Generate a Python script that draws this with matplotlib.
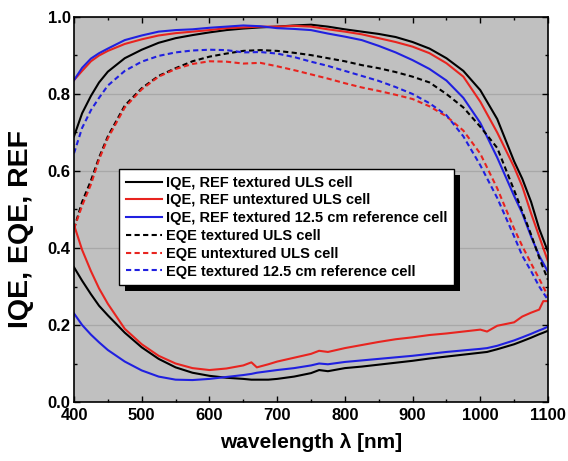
import matplotlib
matplotlib.use('Agg')
import matplotlib.pyplot as plt
from matplotlib.patches import Rectangle
from matplotlib.ticker import MultipleLocator, FormatStrFormatter

plt.rcParams['font.family'] = ['Liberation Sans', 'DejaVu Sans']
plt.rcParams['font.weight'] = 'bold'

# ---------------- data ----------------
wavelength = [400, 412, 425, 437, 450, 475, 500, 525, 550, 575, 600, 625, 650, 675,
              700, 725, 750, 775, 800, 825, 850, 875, 900, 925, 950, 975, 1000,
              1025, 1050, 1062, 1075, 1087, 1100]

iqe_textured_uls = [0.69, 0.75, 0.795, 0.83, 0.858, 0.893, 0.915, 0.933, 0.945, 0.953,
                    0.96, 0.966, 0.97, 0.973, 0.975, 0.978, 0.98, 0.975, 0.968, 0.962,
                    0.956, 0.948, 0.935, 0.918, 0.893, 0.86, 0.81, 0.735, 0.625, 0.58,
                    0.52, 0.45, 0.39]
iqe_untextured_uls = [0.836, 0.86, 0.885, 0.9, 0.912, 0.93, 0.942, 0.952, 0.958, 0.962,
                      0.966, 0.971, 0.973, 0.975, 0.975, 0.977, 0.975, 0.968, 0.962, 0.955,
                      0.945, 0.935, 0.923, 0.906, 0.88, 0.845, 0.78, 0.70, 0.61, 0.56,
                      0.49, 0.43, 0.365]
iqe_reference = [0.836, 0.868, 0.892, 0.906, 0.918, 0.94, 0.952, 0.962, 0.966, 0.968,
                 0.972, 0.975, 0.978, 0.976, 0.971, 0.969, 0.966, 0.957, 0.949, 0.94,
                 0.925, 0.908, 0.888, 0.865, 0.835, 0.79, 0.725, 0.635, 0.535, 0.49,
                 0.43, 0.38, 0.338]
eqe_textured_uls = [0.45, 0.52, 0.575, 0.635, 0.69, 0.77, 0.815, 0.847, 0.867, 0.885,
                    0.897, 0.905, 0.912, 0.914, 0.912, 0.907, 0.901, 0.893, 0.885, 0.875,
                    0.867, 0.857, 0.845, 0.83, 0.80, 0.765, 0.715, 0.66, 0.55, 0.495,
                    0.435, 0.375, 0.317]
eqe_untextured_uls = [0.45, 0.51, 0.565, 0.63, 0.685, 0.765, 0.812, 0.845, 0.865, 0.878,
                      0.885, 0.884, 0.879, 0.881, 0.872, 0.862, 0.851, 0.84, 0.828, 0.817,
                      0.808, 0.798, 0.787, 0.768, 0.742, 0.705, 0.645, 0.555, 0.45, 0.405,
                      0.36, 0.32, 0.275]
eqe_reference = [0.646, 0.712, 0.758, 0.79, 0.822, 0.86, 0.884, 0.899, 0.908, 0.913,
                 0.915, 0.914, 0.908, 0.909, 0.905, 0.896, 0.884, 0.873, 0.86, 0.847,
                 0.834, 0.818, 0.80, 0.776, 0.745, 0.69, 0.615, 0.53, 0.43, 0.38,
                 0.34, 0.30, 0.265]

wavelength_ref = [400, 412, 425, 437, 450, 475, 500, 525, 550, 575, 600, 625, 650, 662,
                  670, 687, 700, 725, 750, 762, 775, 800, 825, 850, 875, 900, 925, 950,
                  975, 1000, 1010, 1025, 1050, 1062, 1075, 1087, 1093, 1100]
ref_textured_uls = [0.35, 0.315, 0.28, 0.25, 0.225, 0.18, 0.142, 0.112, 0.09, 0.076,
                    0.068, 0.063, 0.06, 0.058, 0.058, 0.058, 0.06, 0.066, 0.075, 0.083,
                    0.08, 0.088, 0.092, 0.097, 0.102, 0.107, 0.113, 0.118, 0.123, 0.128,
                    0.13, 0.137, 0.15, 0.158, 0.167, 0.176, 0.18, 0.185]
ref_untextured_uls = [0.46, 0.395, 0.34, 0.295, 0.255, 0.19, 0.15, 0.12, 0.10, 0.088,
                      0.083, 0.087, 0.095, 0.103, 0.09, 0.098, 0.105, 0.115, 0.125, 0.133,
                      0.13, 0.14, 0.148, 0.156, 0.163, 0.168, 0.174, 0.178, 0.183, 0.188,
                      0.183, 0.198, 0.207, 0.222, 0.232, 0.24, 0.262, 0.262]
ref_reference = [0.23, 0.20, 0.175, 0.155, 0.135, 0.105, 0.082, 0.066, 0.058, 0.057,
                 0.06, 0.065, 0.07, 0.073, 0.076, 0.08, 0.083, 0.088, 0.095, 0.10,
                 0.098, 0.104, 0.108, 0.112, 0.116, 0.12, 0.125, 0.13, 0.134, 0.138,
                 0.14, 0.146, 0.16, 0.168, 0.177, 0.186, 0.19, 0.196]

legend_labels = ['IQE, REF textured ULS cell',
                 'IQE, REF untextured ULS cell',
                 'IQE, REF textured 12.5 cm reference cell',
                 'EQE textured ULS cell',
                 'EQE untextured ULS cell',
                 'EQE textured 12.5 cm reference cell']

# ---------------- styling ----------------
BLACK = '#000000'
RED = '#e8241f'
BLUE = '#2020e0'
LW = 1.5
DASH = (0, (2.5, 1.6))

fig = plt.figure(figsize=(5.68, 4.61), dpi=100)
ax = fig.add_axes([74 / 568, 59 / 461, 474 / 568, 385 / 461])
ax.set_facecolor('#c0c0c0')

ax.plot(wavelength, iqe_textured_uls, color=BLACK, lw=LW, label=legend_labels[0])
ax.plot(wavelength, iqe_untextured_uls, color=RED, lw=LW, label=legend_labels[1])
ax.plot(wavelength, iqe_reference, color=BLUE, lw=LW, label=legend_labels[2])
ax.plot(wavelength, eqe_textured_uls, color=BLACK, lw=LW, ls=DASH, label=legend_labels[3])
ax.plot(wavelength, eqe_untextured_uls, color=RED, lw=LW, ls=DASH, label=legend_labels[4])
ax.plot(wavelength, eqe_reference, color=BLUE, lw=LW, ls=DASH, label=legend_labels[5])
ax.plot(wavelength_ref, ref_textured_uls, color=BLACK, lw=LW)
ax.plot(wavelength_ref, ref_untextured_uls, color=RED, lw=LW)
ax.plot(wavelength_ref, ref_reference, color=BLUE, lw=LW)

ax.set_xlim(400, 1100)
ax.set_ylim(0.0, 1.0)
ax.xaxis.set_major_locator(MultipleLocator(100))
ax.xaxis.set_minor_locator(MultipleLocator(50))
ax.yaxis.set_major_locator(MultipleLocator(0.2))
ax.yaxis.set_minor_locator(MultipleLocator(0.1))
ax.yaxis.set_major_formatter(FormatStrFormatter('%.1f'))

ax.grid(axis='y', which='major', color='#a8a8a8', lw=0.9)
ax.set_axisbelow(True)

ax.tick_params(which='both', direction='in', top=True, right=True, width=1.0)
ax.tick_params(which='major', length=4)
ax.tick_params(which='minor', length=2.5)
ax.tick_params(axis='x', which='major', labelsize=12, pad=4.5)
ax.tick_params(axis='y', which='major', labelsize=12, pad=2.5)
for lab in ax.get_xticklabels() + ax.get_yticklabels():
    lab.set_fontweight('bold')
for sp in ax.spines.values():
    sp.set_linewidth(1.2)

ax.set_xlabel('wavelength λ [nm]', fontsize=15, fontweight='bold', labelpad=7)
ax.set_ylabel('IQE, EQE, REF', fontsize=20.5, fontweight='bold')
ax.yaxis.set_label_coords(-0.085, 0.45)

leg = ax.legend(loc='upper left', bbox_to_anchor=(0.095, 0.605), borderaxespad=0,
                fancybox=False, framealpha=1, edgecolor='black', facecolor='white',
                prop={'weight': 'bold', 'size': 10.5}, handlelength=2.5,
                handletextpad=0.25, labelspacing=0.26, borderpad=0.45)
leg.get_frame().set_linewidth(1.0)
leg.set_zorder(6)

fig.canvas.draw()
bb = leg.get_window_extent()
inv = ax.transAxes.inverted()
off = 6
(x0, y0) = inv.transform((bb.x0 + off, bb.y0 - off))
(x1, y1) = inv.transform((bb.x1 + off, bb.y1 - off))
shadow = Rectangle((x0, y0), x1 - x0, y1 - y0, transform=ax.transAxes,
                   facecolor='black', edgecolor='none', zorder=5.5, clip_on=False)
ax.add_patch(shadow)

fig.savefig('out.png', dpi=100)
